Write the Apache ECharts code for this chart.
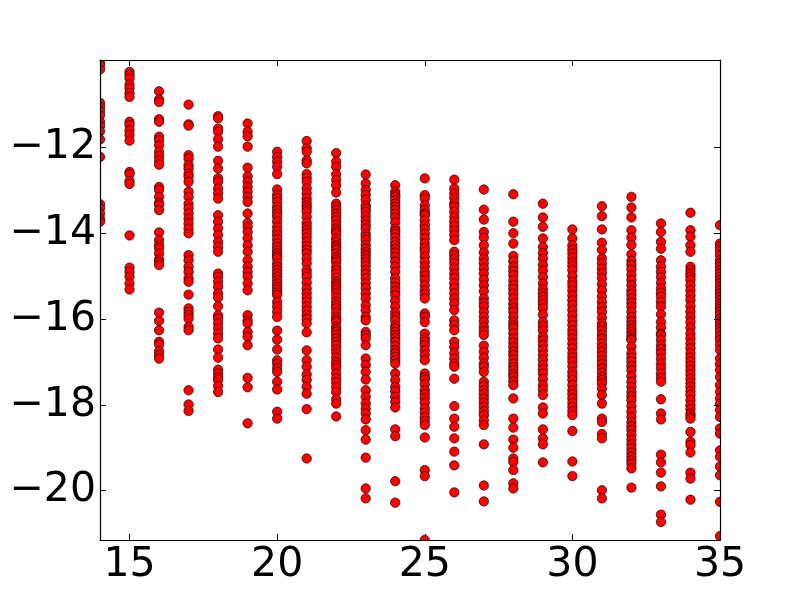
<!DOCTYPE html>
<html>
<head>
<meta charset="utf-8">
<style>html,body{margin:0;padding:0;background:#fff}#c{width:800px;height:600px}</style>
<script src="https://cdn.jsdelivr.net/npm/echarts@6/dist/echarts.min.js"></script>
</head>
<body>
<div id="c"></div>
<script>
const xTicks = [15,20,25,30,35];
const yTicks = [-20,-18,-16,-14,-12];
const y14 = [-10.00,-10.08,-10.18,-10.96,-11.05,-11.15,-11.25,-11.40,-11.50,-11.62,-11.81,-12.22,-13.32,-13.42,-13.54,-13.66,-13.73];
const y15 = [-10.24,-10.31,-10.39,-10.53,-10.62,-10.73,-10.82,-11.40,-11.48,-11.60,-11.71,-11.84,-12.57,-12.62,-12.78,-12.85,-14.05,-14.80,-14.90,-15.01,-15.17,-15.31];
const y16 = [-10.69,-10.88,-10.94,-11.34,-11.40,-11.75,-11.83,-11.95,-12.10,-12.20,-12.30,-12.40,-12.92,-12.99,-13.15,-13.29,-13.34,-13.46,-13.98,-14.16,-14.28,-14.35,-14.47,-14.61,-14.67,-14.74,-15.85,-16.04,-16.26,-16.53,-16.59,-16.75,-16.84,-16.92];
const y17 = [-11.00,-11.46,-11.49,-12.18,-12.26,-12.41,-12.49,-12.61,-12.68,-12.80,-13.03,-13.15,-13.31,-13.42,-13.54,-13.66,-13.77,-13.89,-14.00,-14.51,-14.63,-14.78,-14.90,-15.05,-15.13,-15.43,-15.75,-15.83,-15.91,-15.99,-16.18,-16.26,-17.66,-17.99,-18.14];
const y18 = [-11.27,-11.32,-11.56,-11.63,-11.81,-11.98,-12.31,-12.49,-12.72,-12.80,-12.96,-13.07,-13.19,-13.58,-13.73,-13.89,-14.04,-14.20,-14.32,-14.43,-14.94,-15.01,-15.13,-15.25,-15.40,-15.50,-15.70,-15.91,-15.99,-16.10,-16.22,-16.34,-16.45,-16.71,-16.90,-17.18,-17.27,-17.36,-17.42,-17.56,-17.70];
const y19 = [-11.44,-11.63,-11.74,-11.98,-12.47,-12.67,-12.80,-12.92,-13.03,-13.15,-13.27,-13.54,-13.76,-13.85,-13.97,-14.12,-14.28,-14.43,-14.63,-14.78,-14.90,-15.01,-15.17,-15.33,-15.91,-16.03,-16.10,-16.30,-16.41,-16.61,-17.37,-17.59,-18.43];
const y20 = [-12.10,-12.22,-12.33,-12.45,-12.62,-12.98,-13.10,-13.18,-13.27,-13.38,-13.46,-13.54,-13.62,-13.73,-13.85,-13.95,-14.04,-14.14,-14.24,-14.32,-14.40,-14.47,-14.53,-14.59,-14.70,-14.78,-14.86,-14.94,-15.01,-15.09,-15.17,-15.24,-15.31,-15.38,-15.44,-15.60,-15.71,-15.83,-15.95,-16.27,-16.48,-16.71,-16.96,-17.04,-17.15,-17.23,-17.46,-17.64,-18.16,-18.32];
const y21 = [-11.85,-12.02,-12.10,-12.30,-12.37,-12.62,-12.71,-12.80,-12.95,-13.07,-13.19,-13.28,-13.35,-13.42,-13.50,-13.62,-13.76,-13.85,-13.93,-14.01,-14.10,-14.20,-14.30,-14.39,-14.47,-14.59,-14.70,-14.86,-14.94,-15.02,-15.15,-15.29,-15.40,-15.50,-15.60,-15.71,-15.81,-15.91,-16.00,-16.10,-16.31,-16.73,-16.96,-17.11,-17.29,-17.42,-17.58,-17.74,-18.10,-19.25];
const y22 = [-12.13,-12.33,-12.45,-12.63,-12.76,-12.88,-13.05,-13.31,-13.38,-13.46,-13.54,-13.62,-13.70,-13.80,-13.89,-13.95,-14.01,-14.12,-14.20,-14.28,-14.33,-14.39,-14.47,-14.55,-14.61,-14.67,-14.78,-14.86,-14.94,-15.04,-15.13,-15.19,-15.25,-15.32,-15.40,-15.50,-15.60,-15.68,-15.75,-15.85,-15.95,-16.01,-16.07,-16.18,-16.24,-16.30,-16.37,-16.45,-16.53,-16.61,-16.70,-16.79,-16.90,-17.00,-17.07,-17.15,-17.27,-17.38,-17.48,-17.59,-17.70,-17.87,-17.97,-18.27];
const y23 = [-12.63,-12.84,-12.99,-13.11,-13.22,-13.35,-13.42,-13.50,-13.60,-13.70,-13.80,-13.89,-14.01,-14.08,-14.16,-14.27,-14.36,-14.44,-14.51,-14.59,-14.67,-14.76,-14.86,-14.95,-15.05,-15.17,-15.28,-15.40,-15.52,-15.68,-15.80,-15.95,-16.03,-16.30,-16.37,-16.45,-16.61,-16.92,-17.07,-17.23,-17.41,-17.66,-17.81,-17.97,-18.09,-18.20,-18.34,-18.59,-18.81,-19.23,-19.95,-20.18];
const y24 = [-12.88,-13.03,-13.10,-13.15,-13.23,-13.31,-13.38,-13.46,-13.55,-13.63,-13.75,-13.89,-13.95,-14.01,-14.10,-14.20,-14.28,-14.36,-14.45,-14.55,-14.66,-14.78,-14.90,-15.05,-15.15,-15.25,-15.35,-15.44,-15.57,-15.71,-15.85,-15.94,-16.03,-16.15,-16.22,-16.30,-16.37,-16.45,-16.53,-16.63,-16.73,-16.80,-16.88,-16.96,-17.04,-17.27,-17.42,-17.58,-17.68,-17.81,-17.93,-18.06,-18.57,-18.73,-19.78,-20.28];
const y25 = [-12.72,-13.11,-13.19,-13.35,-13.46,-13.54,-13.58,-13.70,-13.81,-13.90,-14.01,-14.12,-14.24,-14.34,-14.43,-14.55,-14.67,-14.78,-14.90,-14.99,-15.09,-15.21,-15.33,-15.42,-15.52,-15.87,-15.95,-16.07,-16.34,-16.45,-16.53,-16.61,-16.73,-16.84,-16.96,-17.27,-17.35,-17.41,-17.52,-17.66,-17.75,-17.85,-17.95,-18.08,-18.18,-18.29,-18.38,-18.47,-18.76,-19.52,-19.66,-21.15];
const y26 = [-12.75,-12.96,-13.07,-13.18,-13.30,-13.38,-13.50,-13.62,-13.73,-13.83,-13.93,-14.04,-14.16,-14.43,-14.51,-14.60,-14.70,-14.82,-14.94,-15.05,-15.17,-15.28,-15.40,-15.52,-15.64,-15.79,-16.03,-16.14,-16.26,-16.53,-16.65,-16.80,-16.92,-17.04,-17.11,-17.39,-18.03,-18.32,-18.51,-18.78,-19.09,-19.41,-20.04];
const y27 = [-12.98,-13.45,-13.68,-13.97,-14.10,-14.28,-14.45,-14.59,-14.70,-14.82,-14.94,-15.08,-15.21,-15.35,-15.52,-15.62,-15.71,-15.83,-15.95,-16.06,-16.18,-16.28,-16.37,-16.62,-16.76,-16.90,-17.04,-17.12,-17.23,-17.46,-17.56,-17.66,-17.75,-17.85,-17.95,-18.05,-18.15,-18.24,-18.36,-18.47,-18.92,-19.88,-20.25];
const y28 = [-13.09,-13.73,-14.00,-14.24,-14.53,-14.65,-14.78,-14.88,-14.98,-15.10,-15.21,-15.30,-15.40,-15.52,-15.64,-15.74,-15.83,-15.95,-16.07,-16.15,-16.22,-16.33,-16.45,-16.55,-16.65,-16.75,-16.84,-16.94,-17.04,-17.12,-17.19,-17.28,-17.35,-17.45,-17.54,-17.85,-18.32,-18.53,-18.81,-19.00,-19.25,-19.33,-19.52,-19.83,-19.95];
const y29 = [-13.31,-13.63,-13.85,-14.12,-14.32,-14.46,-14.59,-14.74,-14.87,-15.02,-15.17,-15.30,-15.40,-15.48,-15.56,-15.65,-15.75,-15.90,-16.07,-16.16,-16.26,-16.41,-16.50,-16.61,-16.72,-16.84,-16.95,-17.07,-17.17,-17.27,-17.40,-17.54,-17.65,-17.77,-18.06,-18.20,-18.57,-18.78,-18.92,-19.34];
const y30 = [-13.91,-14.12,-14.28,-14.38,-14.47,-14.57,-14.67,-14.76,-14.86,-15.00,-15.13,-15.22,-15.33,-15.45,-15.56,-15.67,-15.79,-15.91,-16.03,-16.14,-16.26,-16.35,-16.45,-16.57,-16.68,-16.80,-16.90,-16.99,-17.10,-17.23,-17.32,-17.42,-17.54,-17.66,-17.75,-17.85,-17.95,-18.05,-18.15,-18.24,-18.61,-19.32,-19.66];
const y31 = [-13.37,-13.60,-13.91,-14.22,-14.39,-14.59,-14.70,-14.82,-14.93,-15.05,-15.19,-15.33,-15.47,-15.60,-15.72,-15.83,-15.97,-16.10,-16.18,-16.26,-16.37,-16.46,-16.57,-16.66,-16.76,-16.86,-16.96,-17.05,-17.15,-17.25,-17.35,-17.42,-17.50,-17.62,-17.77,-17.97,-18.32,-18.40,-18.68,-18.78,-19.99,-20.18];
const y32 = [-13.15,-13.40,-13.63,-13.93,-14.10,-14.27,-14.49,-14.64,-14.74,-14.84,-14.97,-15.09,-15.21,-15.33,-15.42,-15.52,-15.62,-15.71,-15.83,-15.95,-16.05,-16.14,-16.22,-16.30,-16.38,-16.45,-16.49,-16.65,-16.80,-16.90,-16.99,-17.09,-17.19,-17.33,-17.46,-17.58,-17.70,-17.80,-17.89,-18.03,-18.16,-18.28,-18.40,-18.50,-18.59,-18.70,-18.81,-18.92,-19.02,-19.11,-19.21,-19.29,-19.37,-19.48,-19.93];
const y33 = [-13.77,-13.97,-14.20,-14.36,-14.63,-14.78,-14.90,-15.02,-15.16,-15.29,-15.39,-15.48,-15.60,-15.71,-15.89,-16.07,-16.20,-16.34,-16.37,-16.49,-16.61,-16.70,-16.80,-16.92,-17.04,-17.15,-17.27,-17.37,-17.46,-17.87,-18.20,-18.34,-19.16,-19.34,-19.58,-19.90,-20.56,-20.73];
const y34 = [-13.52,-13.93,-14.08,-14.28,-14.43,-14.78,-14.86,-14.94,-15.01,-15.09,-15.21,-15.33,-15.45,-15.56,-15.70,-15.83,-15.95,-16.07,-16.20,-16.34,-16.45,-16.57,-16.68,-16.80,-16.90,-16.99,-17.09,-17.19,-17.29,-17.39,-17.49,-17.58,-17.68,-17.77,-17.89,-18.01,-18.10,-18.20,-18.26,-18.32,-18.63,-18.86,-18.94,-19.11,-19.58,-19.72,-20.21];
const y35 = [-13.81,-14.24,-14.32,-14.40,-14.51,-14.63,-14.70,-14.78,-14.86,-14.94,-15.02,-15.09,-15.17,-15.25,-15.33,-15.40,-15.48,-15.56,-15.64,-15.71,-15.77,-15.83,-15.91,-15.99,-16.07,-16.14,-16.22,-16.30,-16.40,-16.49,-16.60,-16.72,-16.92,-17.05,-17.19,-17.35,-17.54,-17.70,-17.85,-17.98,-18.12,-18.28,-18.55,-18.67,-19.06,-19.21,-19.44,-19.64,-20.26,-21.06];

const columns = [y14,y15,y16,y17,y18,y19,y20,y21,y22,y23,y24,y25,y26,y27,y28,y29,y30,y31,y32,y33,y34,y35];
const points = columns.flatMap((ys, i) => ys.map(v => [14 + i, v]));

const FONT = 'DejaVu Sans';
const tick = values => ({show:true, inside:true, length:6, customValues:values, lineStyle:{color:'#000',width:1}});
const line = {show:true, onZero:false, lineStyle:{color:'#000',width:1.2}};
const fmt = v => String(v).replace('-', '\u2212');
const mask = (x,y,w,h) => ({type:'rect',z:3,silent:true,shape:{x,y,width:w,height:h},style:{fill:'#fff'}});

const chart = echarts.init(document.getElementById('c'), null, {renderer:'canvas'});
chart.setOption({
  animation:false,
  backgroundColor:'#fff',
  grid:{left:100,right:80,top:60,bottom:60,containLabel:false},
  graphic:{elements:[mask(85,50,15,500),mask(720,50,15,500),mask(85,48,650,12),mask(85,540,650,10)]},
  xAxis:[
    {type:'value',min:14,max:35,position:'bottom',z:5,splitLine:{show:false},axisLine:line,
     axisTick:tick(xTicks),
     axisLabel:{customValues:xTicks,formatter:fmt,fontFamily:FONT,fontSize:41,color:'#000',margin:5,hideOverlap:false}},
    {type:'value',min:14,max:35,position:'top',z:5,splitLine:{show:false},axisLine:line,
     axisTick:tick(xTicks),axisLabel:{show:false}}
  ],
  yAxis:[
    {type:'value',min:-21.15,max:-9.96,position:'left',z:5,splitLine:{show:false},axisLine:line,
     axisTick:tick(yTicks),
     axisLabel:{customValues:yTicks,formatter:fmt,fontFamily:FONT,fontSize:41,color:'#000',margin:4,hideOverlap:false}},
    {type:'value',min:-21.15,max:-9.96,position:'right',z:5,splitLine:{show:false},axisLine:line,
     axisTick:tick(yTicks),axisLabel:{show:false}}
  ],
  series:[{
    type:'scatter',
    data:points,
    symbol:'circle',
    symbolSize:9.4,
    clip:true,
    z:2,
    silent:true,
    itemStyle:{color:'#ff0000',borderColor:'#1a0000',borderWidth:0.7,opacity:1}
  }]
});
</script>
</body>
</html>
